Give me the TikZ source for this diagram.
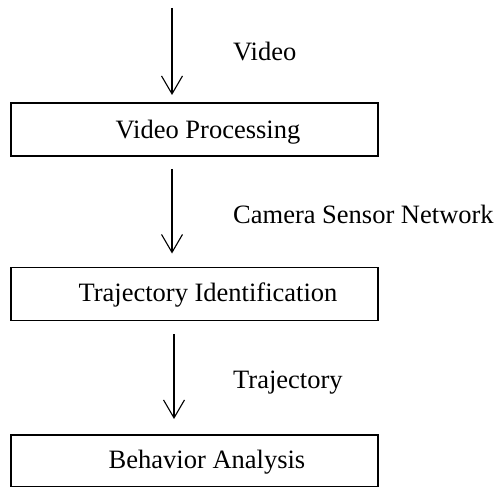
\documentclass[tikz,border=0pt]{standalone}
\usepackage{fontspec}
\setmainfont{Liberation Serif}
\usetikzlibrary{arrows.meta}
\begin{document}
\begin{tikzpicture}[x=1pt,y=-1pt,
  stage/.style={draw=black,line width=1.8pt,minimum width=367pt,minimum height=53pt,inner sep=0pt,anchor=north west},
  txt/.style={font=\fontsize{26.5}{30}\selectfont,inner sep=0pt},
  flow/.style={line width=1.1pt,-{Straight Barb[length=18pt,width=21pt,line width=1.1pt]}}]
\useasboundingbox (0,0) rectangle (496,487);
\node[stage] (vp) at (10,102) {};
\node[stage] (ti) at (10,266.5) {};
\node[stage,minimum height=52pt] (ba) at (10,434) {};
\node[txt,anchor=base] (vpt) at (208,139) {Video Processing};
\node[txt,anchor=base] (tit) at (208,301.5) {Trajectory Identification};
\node[txt,anchor=base] (bat) at (207,468) {Behavior Analysis};
\node[txt,anchor=base west] (l1) at (233,60.5) {Video};
\node[txt,anchor=base west] (l2) at (233,223) {Camera Sensor Network};
\node[txt,anchor=base west] (l3) at (233,388) {Trajectory};
\coordinate (src) at (172,8);
\coordinate (src3) at (174,8);
\draw[flow,shorten >=7pt] (src) -- (src |- vp.north);
\draw[flow,shorten <=12pt,shorten >=13pt] (src |- vp.south) -- (src |- ti.north);
\draw[flow,shorten <=13pt,shorten >=15pt] (src3 |- ti.south) -- (src3 |- ba.north);
\end{tikzpicture}
\end{document}
